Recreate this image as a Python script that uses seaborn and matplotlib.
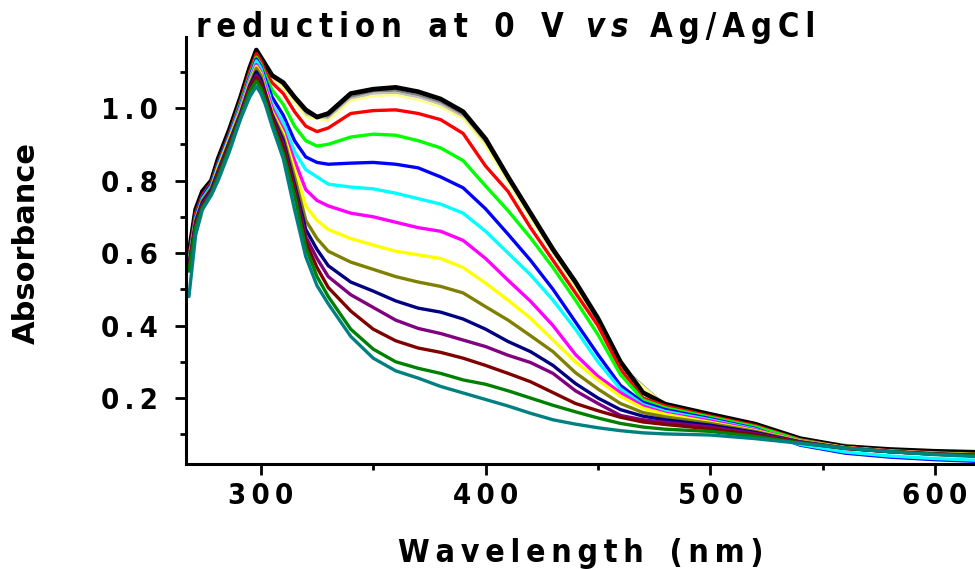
import matplotlib
matplotlib.use("Agg")
import matplotlib.pyplot as plt
import seaborn as sns
from matplotlib import font_manager
from matplotlib.ticker import FixedLocator, MultipleLocator, FuncFormatter

# --- DATA ---

wl = [268, 271, 274, 278, 281, 286, 291, 295, 298, 300, 302, 305, 310, 315, 320, 325, 330,
      340, 350, 360, 370, 380, 390, 400, 410, 420, 430, 440, 450, 460, 470, 480, 500, 520,
      540, 560, 580, 600, 620]

black = [0.60, 0.72, 0.77, 0.80, 0.86, 0.94, 1.03, 1.11, 1.16, 1.14, 1.12, 1.09, 1.07, 1.03, 0.995, 0.975, 0.985,
         1.04, 1.052, 1.057, 1.045, 1.025, 0.99, 0.915, 0.81, 0.71, 0.61, 0.52, 0.42, 0.30, 0.215, 0.183, 0.155, 0.128,
         0.088, 0.066, 0.058, 0.053, 0.05]
red = [0.59, 0.71, 0.76, 0.795, 0.85, 0.93, 1.02, 1.10, 1.15, 1.13, 1.10, 1.07, 1.04, 0.99, 0.95, 0.935, 0.945,
       0.985, 0.993, 0.995, 0.985, 0.968, 0.93, 0.84, 0.77, 0.67, 0.58, 0.49, 0.40, 0.28, 0.2, 0.178, 0.15, 0.124,
       0.085, 0.064, 0.055, 0.049, 0.045]
green = [0.58, 0.70, 0.755, 0.79, 0.845, 0.925, 1.015, 1.09, 1.14, 1.12, 1.09, 1.05, 1.01, 0.95, 0.91, 0.895, 0.90,
         0.92, 0.928, 0.925, 0.91, 0.89, 0.855, 0.785, 0.717, 0.642, 0.56, 0.47, 0.375, 0.265, 0.195, 0.173, 0.147, 0.121,
         0.084, 0.063, 0.054, 0.048, 0.044]
blue = [0.58, 0.70, 0.755, 0.79, 0.845, 0.925, 1.01, 1.085, 1.135, 1.115, 1.08, 1.03, 0.98, 0.91, 0.865, 0.85, 0.845,
        0.848, 0.85, 0.845, 0.835, 0.81, 0.78, 0.722, 0.652, 0.58, 0.50, 0.41, 0.32, 0.235, 0.188, 0.168, 0.143, 0.116,
        0.07, 0.048, 0.037, 0.03, 0.025]
cyan = [0.575, 0.695, 0.75, 0.785, 0.84, 0.92, 1.005, 1.08, 1.13, 1.11, 1.07, 1.01, 0.96, 0.88, 0.83, 0.81, 0.79,
        0.782, 0.777, 0.765, 0.75, 0.735, 0.71, 0.66, 0.60, 0.54, 0.47, 0.39, 0.30, 0.225, 0.182, 0.163, 0.14, 0.114,
        0.072, 0.051, 0.04, 0.033, 0.028]
magenta = [0.57, 0.69, 0.745, 0.78, 0.835, 0.915, 1.0, 1.075, 1.12, 1.10, 1.06, 1.0, 0.94, 0.855, 0.775, 0.745, 0.73,
           0.71, 0.70, 0.685, 0.67, 0.66, 0.635, 0.585, 0.525, 0.467, 0.40, 0.32, 0.26, 0.215, 0.178, 0.158, 0.137, 0.112,
           0.082, 0.063, 0.054, 0.047, 0.043]
yellow = [0.57, 0.69, 0.745, 0.78, 0.835, 0.915, 0.995, 1.07, 1.115, 1.095, 1.05, 0.99, 0.93, 0.83, 0.73, 0.69, 0.665,
          0.64, 0.622, 0.605, 0.595, 0.585, 0.56, 0.517, 0.47, 0.42, 0.36, 0.30, 0.25, 0.205, 0.172, 0.155, 0.133, 0.11,
          0.081, 0.063, 0.053, 0.047, 0.043]
olive = [0.57, 0.69, 0.745, 0.78, 0.83, 0.91, 0.99, 1.065, 1.11, 1.09, 1.045, 0.985, 0.92, 0.81, 0.69, 0.64, 0.605,
         0.575, 0.555, 0.535, 0.52, 0.508, 0.49, 0.452, 0.415, 0.372, 0.328, 0.27, 0.225, 0.185, 0.16, 0.148, 0.13, 0.108,
         0.08, 0.062, 0.053, 0.046, 0.042]
navy = [0.565, 0.685, 0.74, 0.775, 0.825, 0.905, 0.985, 1.06, 1.10, 1.08, 1.04, 0.98, 0.91, 0.79, 0.665, 0.61, 0.565,
        0.52, 0.495, 0.468, 0.448, 0.437, 0.418, 0.39, 0.356, 0.328, 0.29, 0.24, 0.20, 0.168, 0.15, 0.14, 0.125, 0.105,
        0.079, 0.062, 0.052, 0.046, 0.042]
purple = [0.56, 0.68, 0.735, 0.77, 0.82, 0.90, 0.98, 1.055, 1.09, 1.07, 1.035, 0.975, 0.90, 0.78, 0.645, 0.585, 0.535,
          0.485, 0.45, 0.415, 0.392, 0.378, 0.36, 0.342, 0.318, 0.298, 0.268, 0.22, 0.185, 0.152, 0.14, 0.133, 0.12, 0.102,
          0.078, 0.061, 0.052, 0.045, 0.041]
maroon = [0.555, 0.675, 0.73, 0.765, 0.815, 0.895, 0.975, 1.05, 1.085, 1.065, 1.03, 0.97, 0.89, 0.77, 0.63, 0.56, 0.505,
          0.44, 0.39, 0.358, 0.338, 0.326, 0.31, 0.29, 0.268, 0.245, 0.215, 0.185, 0.165, 0.147, 0.134, 0.127, 0.115, 0.099,
          0.077, 0.061, 0.052, 0.045, 0.041]
dkgreen = [0.55, 0.67, 0.725, 0.765, 0.81, 0.89, 0.975, 1.045, 1.075, 1.055, 1.02, 0.96, 0.875, 0.76, 0.615, 0.535, 0.48,
           0.39, 0.335, 0.30, 0.282, 0.268, 0.25, 0.238, 0.22, 0.20, 0.18, 0.162, 0.145, 0.13, 0.12, 0.114, 0.108, 0.094,
           0.076, 0.062, 0.052, 0.045, 0.04]
teal = [0.48, 0.65, 0.72, 0.76, 0.80, 0.88, 0.97, 1.03, 1.06, 1.04, 1.01, 0.95, 0.86, 0.72, 0.59, 0.51, 0.46,
        0.37, 0.31, 0.275, 0.255, 0.232, 0.214, 0.196, 0.178, 0.158, 0.14, 0.128, 0.118, 0.11, 0.104, 0.101, 0.098, 0.088,
        0.075, 0.062, 0.052, 0.044, 0.038]

# thin curves bunched just under the black one
cl_wl = [268, 280, 291, 298, 302, 310, 320, 330, 340, 350, 360, 370, 380, 390, 400, 410, 420, 440, 460, 480,
         500, 540, 580, 620]
gray = [0.59, 0.84, 1.02, 1.15, 1.11, 1.06, 0.985, 0.975, 1.03, 1.045, 1.048, 1.035, 1.015, 0.98, 0.905, 0.80,
        0.70, 0.51, 0.29, 0.18, 0.152, 0.086, 0.056, 0.048]
ltgray = [0.588, 0.838, 1.018, 1.148, 1.105, 1.058, 0.98, 0.97, 1.025, 1.04, 1.042, 1.03, 1.01, 0.975, 0.90, 0.798,
          0.698, 0.508, 0.288, 0.18, 0.151, 0.086, 0.056, 0.047]
ltyellow = [0.585, 0.835, 1.015, 1.145, 1.10, 1.055, 0.975, 0.965, 1.02, 1.033, 1.036, 1.022, 1.003, 0.97, 0.895,
            0.795, 0.695, 0.505, 0.285, 0.179, 0.151, 0.086, 0.056, 0.047]

x_ticks = [300, 400, 500, 600]
y_ticks = [0.2, 0.4, 0.6, 0.8, 1.0]

# --- FONTS ---
sns.set_style("ticks")
ttf = font_manager.fontManager.ttflist
if any(f.name == "DejaVu Sans Condensed" for f in ttf):
    FAM, STRETCH, SEP = "DejaVu Sans Condensed", "normal", "\u2009"
elif any(f.name == "DejaVu Sans" and f.stretch == "condensed" for f in ttf):
    FAM, STRETCH, SEP = "DejaVu Sans", "condensed", "\u2009"
else:
    FAM, STRETCH, SEP = "DejaVu Sans", "normal", "\u200a"
plt.rcParams["font.family"] = [FAM, "DejaVu Sans"]
plt.rcParams["font.stretch"] = STRETCH
plt.rcParams["font.weight"] = "bold"
for key in ["text.color", "axes.labelcolor", "xtick.color", "ytick.color", "axes.edgecolor"]:
    plt.rcParams[key] = "black"
TITLE = 23.5  # title size
XLAB = 23     # x label size
TICK = 21     # tick label size

def spaced(s):
    # letter-spaced text like the original Origin export
    return ("  " + SEP).join(SEP.join(w) for w in s.split(" "))

# --- PLOT ---
fig = plt.figure(figsize=(9.75, 5.69), dpi=100)
ax = fig.add_axes([186 / 975, 105 / 569, 789 / 975, 427 / 569])

for vals, col in [(gray, "#808080"), (ltgray, "#C0C0C0"), (ltyellow, "#FFFF80")]:
    sns.lineplot(x=cl_wl, y=vals, color=col, linewidth=1.6, ax=ax, legend=False)

curves = [(black, "#000000", 3.4), (red, "#FF0000", 2.4), (green, "#00FF00", 2.4), (blue, "#0000FF", 2.4),
          (cyan, "#00FFFF", 2.4), (magenta, "#FF00FF", 2.4), (yellow, "#FFFF00", 2.4), (olive, "#808000", 2.4),
          (navy, "#000080", 2.4), (purple, "#800080", 2.4), (maroon, "#800000", 2.4), (dkgreen, "#008000", 2.4),
          (teal, "#008080", 2.4)]
for vals, col, lw in curves:
    sns.lineplot(x=wl, y=vals, color=col, linewidth=lw, ax=ax, legend=False)

ax.set_xlim(266.7, 617.8)
ax.set_ylim(0.018, 1.196)
ax.xaxis.set_major_locator(FixedLocator(x_ticks))
ax.xaxis.set_minor_locator(MultipleLocator(50))
ax.yaxis.set_major_locator(FixedLocator(y_ticks))
ax.yaxis.set_minor_locator(MultipleLocator(0.1))
ax.xaxis.set_major_formatter(FuncFormatter(lambda v, p: SEP.join(f"{int(round(v))}")))
ax.yaxis.set_major_formatter(FuncFormatter(lambda v, p: SEP.join(f"{v:.1f}")))
ax.set_xlabel("")
ax.set_ylabel("")
for s in ["top", "right"]:
    ax.spines[s].set_visible(False)
for s in ["left", "bottom"]:
    ax.spines[s].set_linewidth(2.2)
    ax.spines[s].set_color("black")
ax.tick_params(which="major", direction="out", length=8, width=2, labelsize=TICK, pad=5, colors="black")
ax.tick_params(axis="y", which="major", pad=12)
ax.tick_params(which="minor", direction="out", length=4, width=2, colors="black")
for lab in ax.get_xticklabels() + ax.get_yticklabels():
    lab.set_fontweight("bold")

# axis titles
fig.text(26 / 975, 1 - 243 / 569, "Absorbance", rotation=90, ha="center", va="center",
         fontsize=22, fontweight="bold", family="DejaVu Sans", stretch="normal")
fig.text(581 / 975, 1 - 562 / 569, spaced("Wavelength (nm)"), ha="center", va="baseline",
         fontsize=XLAB, fontweight="bold")

# title in three pieces so "vs" can be italic
fig.canvas.draw()
rend = fig.canvas.get_renderer()
base_y = 1 - 37 / 569
x_px = 196
for piece, style in [("reduction at 0 V", "normal"), ("vs", "italic"), ("Ag/AgCl", "normal")]:
    t = fig.text(x_px / 975, base_y, spaced(piece), ha="left", va="baseline", fontsize=TITLE,
                 fontweight="bold", style=style)
    bb = t.get_window_extent(renderer=rend)
    x_px = bb.x1 + 22

fig.savefig("out.png", dpi=100)
